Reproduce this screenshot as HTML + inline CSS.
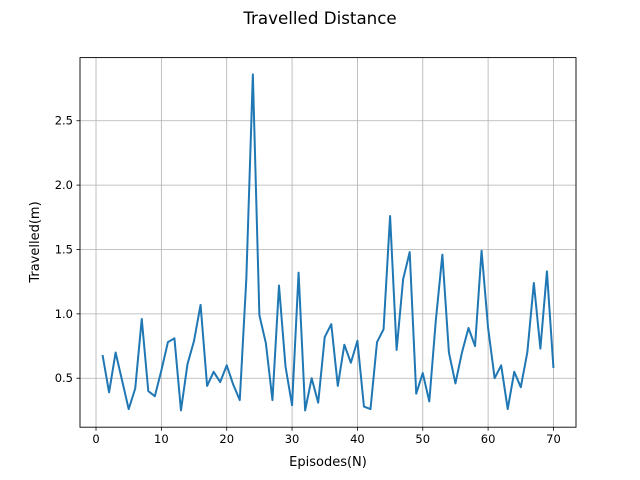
<!DOCTYPE html>
<html><head><meta charset="utf-8"><style>
body{margin:0;background:#fff}
svg{display:block;font-family:"DejaVu Sans","Liberation Sans",sans-serif}
</style></head><body>
<svg id="chart" width="640" height="480">
<rect width="640" height="480" fill="#fff"/>
<text x="320" y="24" text-anchor="middle" font-size="16.7">Travelled Distance</text>
<g id="grid"></g>
<g id="axes"></g>
<path id="line" fill="none" stroke="#1f77b4" stroke-width="2" stroke-linejoin="round"/>
<rect x="80" y="57.6" width="496" height="369.6" fill="none" stroke="#000" stroke-width="0.9"/>
<text x="328" y="466" text-anchor="middle" font-size="13">Episodes(N)</text>
<text transform="translate(39,242) rotate(-90)" text-anchor="middle" font-size="13">Travelled(m)</text>
</svg>
<script>
const episodes = Array.from({length:70},(_,i)=>i+1);
const distances = [0.68,0.39,0.70,0.48,0.26,0.42,0.96,0.40,0.36,0.56,0.78,0.81,0.25,0.61,0.79,1.07,0.44,0.55,0.47,0.60,0.45,0.33,1.27,2.86,0.99,0.77,0.33,1.22,0.59,0.29,1.32,0.25,0.50,0.31,0.82,0.92,0.44,0.76,0.62,0.79,0.28,0.26,0.78,0.88,1.76,0.72,1.27,1.48,0.38,0.54,0.32,0.95,1.46,0.70,0.46,0.70,0.89,0.75,1.49,0.89,0.50,0.60,0.26,0.55,0.43,0.70,1.24,0.73,1.33,0.58];
const xTicks = [0,10,20,30,40,50,60,70];
const yTicks = [0.5,1.0,1.5,2.0,2.5];
const yTickLabels = ["0.5","1.0","1.5","2.0","2.5"];

const L=80,R=576,T=57.6,B=427.2;
const xmin=-2.45,xmax=73.45;
const dmin=Math.min(...distances),dmax=Math.max(...distances),pad=(dmax-dmin)*0.05;
const ymin=dmin-pad,ymax=dmax+pad;
const xs=v=>L+(v-xmin)/(xmax-xmin)*(R-L);
const ys=v=>B-(v-ymin)/(ymax-ymin)*(B-T);
const NS='http://www.w3.org/2000/svg';
const grid=document.getElementById('grid'),axes=document.getElementById('axes');
function mk(tag,attrs,parent){const e=document.createElementNS(NS,tag);for(const k in attrs)e.setAttribute(k,attrs[k]);parent.appendChild(e);return e;}
xTicks.forEach(t=>{
  const x=xs(t);
  const g=mk('line',{x1:x,x2:x,y1:T,y2:B,stroke:'#b0b0b0','stroke-width':0.8},grid);
  
  
  const tk=mk('line',{x1:x,x2:x,y1:B,y2:B+3.5,stroke:'#000','stroke-width':0.8},axes);
  
  
  const lb=mk('text',{x:x,y:B+16,'text-anchor':'middle','font-size':11.5},axes);
  lb.textContent=t;
  
  
});
yTicks.forEach((t,i)=>{
  const y=ys(t);
  const g=mk('line',{x1:L,x2:R,y1:y,y2:y,stroke:'#b0b0b0','stroke-width':0.8},grid);
  
  
  const tk=mk('line',{x1:L-3.5,x2:L,y1:y,y2:y,stroke:'#000','stroke-width':0.8},axes);
  
  
  const lb=mk('text',{x:L-7,y:y+4,'text-anchor':'end','font-size':11.5},axes);
  lb.textContent=yTickLabels[i];
  
  
});
document.getElementById('line').setAttribute('d',episodes.map((e,i)=>(i?'L':'M')+xs(e).toFixed(2)+','+ys(distances[i]).toFixed(2)).join(''));
</script>
</body></html>
